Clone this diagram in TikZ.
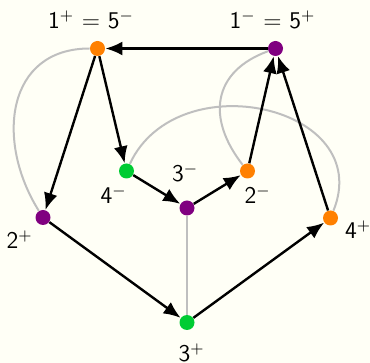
\documentclass[tikz,border=0pt]{standalone}
\usepackage{xcolor}
\usepackage{tikz}
\usetikzlibrary{arrows.meta}
\definecolor{bgcream}{RGB}{255,255,246}
\definecolor{vorange}{RGB}{255,128,0}
\definecolor{vpurple}{RGB}{128,0,128}
\definecolor{vgreen}{RGB}{0,204,51}
\tikzset{
vdot/.style={circle,inner sep=0pt,minimum size=7.5pt},
vdotorange/.style={vdot,fill=vorange},
vdotpurple/.style={vdot,fill=vpurple},
vdotgreen/.style={vdot,fill=vgreen},
vlabel/.style={font=\sffamily\large,inner sep=0pt,anchor=base},
varr/.style={-{Latex[length=8.5pt,width=7pt]},line width=1.2pt},
vtwin/.style={line width=1pt,gray!50}
}
\begin{document}
\begin{tikzpicture}[
x=0.5pt,
y=-0.5pt
]
\fill[bgcream] (0,0) rectangle (370,363);
\useasboundingbox (0,0) rectangle (370,363);
% vertices
\node[vdotorange] (v1p) at (97.5,48.5) {};
\node[vdotpurple] (v1m) at (275.5,48.5) {};
\node[vdotgreen]  (v4m) at (126.5,171) {};
\node[vdotpurple] (v3m) at (187,208) {};
\node[vdotorange] (v2m) at (247.5,171) {};
\node[vdotpurple] (v2p) at (43,217.5) {};
\node[vdotorange] (v4p) at (330.5,218) {};
\node[vdotgreen]  (v3p) at (187,322.5) {};
% vertex labels
\node[vlabel] (l1p) at (91,29) {1$^{+}$ $=$ 5$^{-}$};
\node[vlabel] (l1m) at (272.5,29) {1$^{-}$ $=$ 5$^{+}$};
\node[vlabel] (l4m) at (113.5,204) {4$^{-}$};
\node[vlabel] (l3m) at (185,182) {3$^{-}$};
\node[vlabel] (l2m) at (257.5,204) {2$^{-}$};
\node[vlabel] (l2p) at (19.5,249) {2$^{+}$};
\node[vlabel] (l4p) at (358,239) {4$^{+}$};
\node[vlabel] (l3p) at (191.5,362) {3$^{+}$};
% grey twins
\draw[vtwin] (v1p) to[out=180,in=122,looseness=1.25] (v2p);
\draw[vtwin] (v1m) to[out=200,in=128,looseness=1.3] (v2m);
\draw[vtwin] (v4m) to[out=65,in=68,looseness=1.38] (v4p);
\draw[vtwin] (v3m)--(v3p);
% arrows
\draw[varr] (v1m)--(v1p);
\draw[varr] (v1p)--(v2p);
\draw[varr] (v1p)--(v4m);
\draw[varr] (v4m)--(v3m);
\draw[varr] (v3m)--(v2m);
\draw[varr] (v2m)--(v1m);
\draw[varr] (v4p)--(v1m);
\draw[varr] (v2p)--(v3p);
\draw[varr] (v3p)--(v4p);
\end{tikzpicture}
\end{document}
